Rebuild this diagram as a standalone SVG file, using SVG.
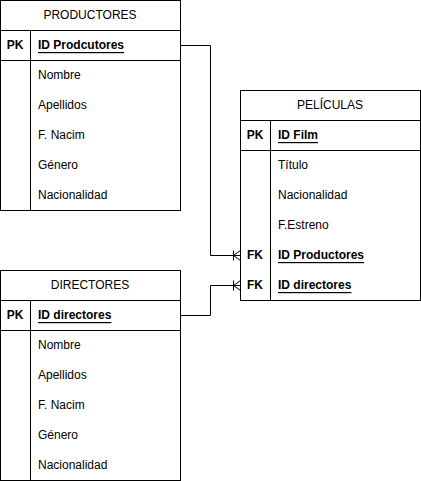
<svg xmlns="http://www.w3.org/2000/svg" width="421" height="481" viewBox="0 0 421 481">
<style>
.box{fill:#fff;stroke:#000;stroke-width:1}
.ln{fill:none;stroke:#000;stroke-width:1}
text{font-family:"Liberation Sans",Arial,Helvetica,sans-serif;font-size:12px;fill:#000;dominant-baseline:central}
.h{text-anchor:middle}
.k{font-weight:bold;text-anchor:middle}
.u{font-weight:bold;text-decoration:underline}
</style>
<rect width="421" height="481" fill="#fff"/>
<g id="productores">
<rect class="box" x="0.5" y="0.5" width="180" height="210"/>
<path class="ln" d="M0.5 30.5H180.5M0.5 60.5H180.5M30.5 30.5V210.5"/>
<text class="h" x="90" y="15">PRODUCTORES</text>
<text class="k" x="15" y="45">PK</text>
<text class="u" x="38" y="45">ID Prodcutores</text>
<text x="38" y="75">Nombre</text>
<text x="38" y="105">Apellidos</text>
<text x="38" y="135">F. Nacim</text>
<text x="38" y="165">Género</text>
<text x="38" y="195">Nacionalidad</text>
</g>
<g id="peliculas">
<rect class="box" x="240.5" y="90.5" width="180" height="210"/>
<path class="ln" d="M240.5 120.5H420.5M240.5 150.5H420.5M270.5 120.5V300.5"/>
<text class="h" x="330" y="105">PELÍCULAS</text>
<text class="k" x="255" y="135">PK</text>
<text class="u" x="278" y="135">ID Film</text>
<text x="278" y="165">Título</text>
<text x="278" y="195">Nacionalidad</text>
<text x="278" y="225">F.Estreno</text>
<text class="k" x="255" y="255">FK</text>
<text class="u" x="278" y="255">ID Productores</text>
<text class="k" x="255" y="285">FK</text>
<text class="u" x="278" y="285">ID directores</text>
</g>
<g id="directores">
<rect class="box" x="0.5" y="270.5" width="180" height="210"/>
<path class="ln" d="M0.5 300.5H180.5M0.5 330.5H180.5M30.5 300.5V480.5"/>
<text class="h" x="90" y="285">DIRECTORES</text>
<text class="k" x="15" y="315">PK</text>
<text class="u" x="38" y="315">ID directores</text>
<text x="38" y="345">Nombre</text>
<text x="38" y="375">Apellidos</text>
<text x="38" y="405">F. Nacim</text>
<text x="38" y="435">Género</text>
<text x="38" y="465">Nacionalidad</text>
</g>
<g id="connectors">
<path class="ln" d="M180.5 45.5H210.5V255.5H240.5"/>
<path class="ln" d="M233.5 250.5V260.5M240.5 250.5L233.5 255.5L240.5 260.5"/>
<path class="ln" d="M180.5 315.5H210.5V285.5H240.5"/>
<path class="ln" d="M233.5 280.5V290.5M240.5 280.5L233.5 285.5L240.5 290.5"/>
</g>
</svg>
